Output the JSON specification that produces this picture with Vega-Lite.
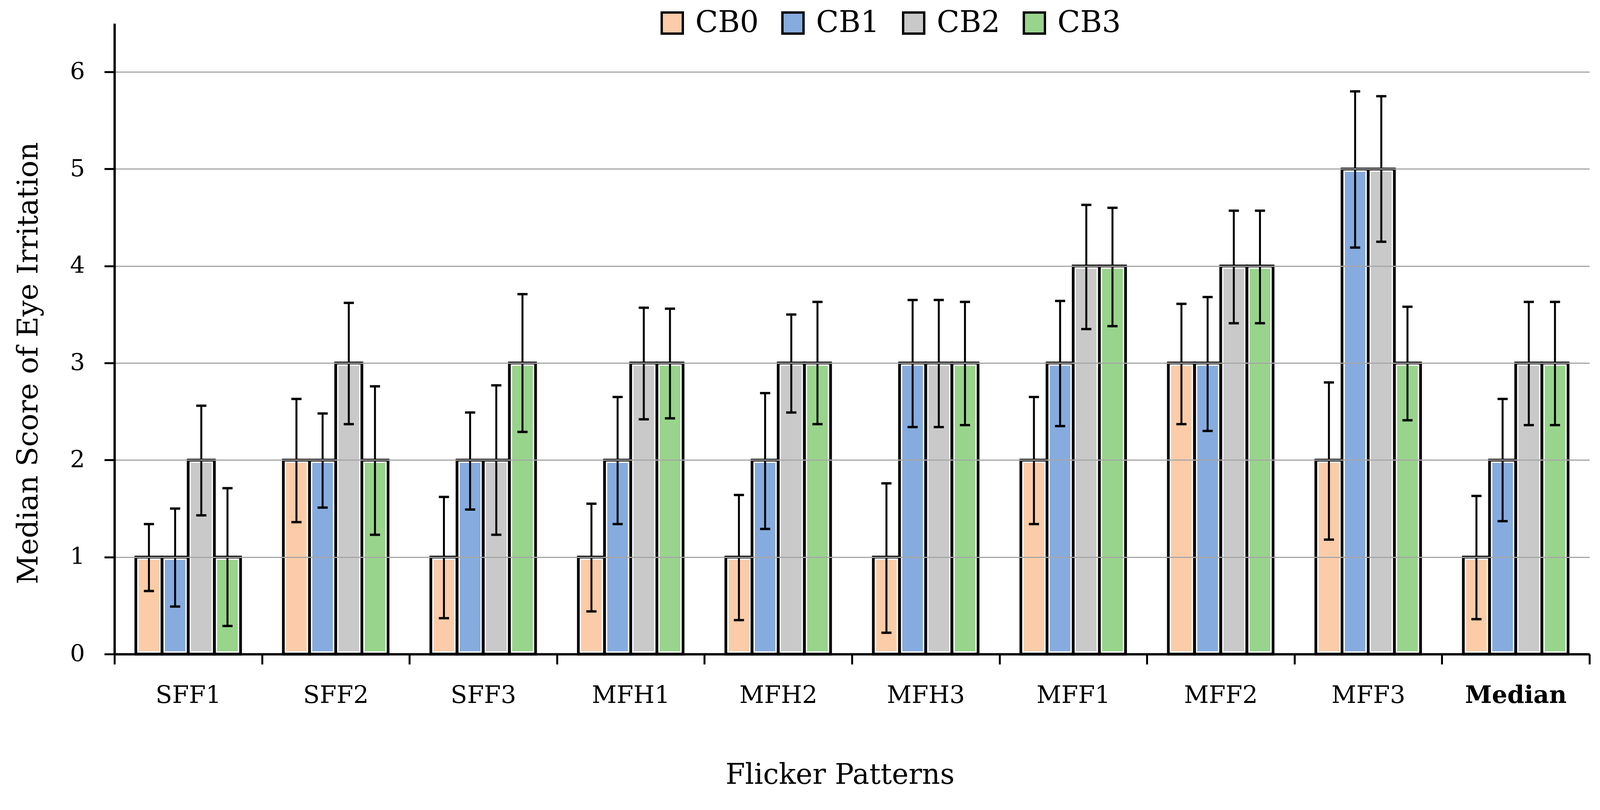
{
  "$schema": "https://vega.github.io/schema/vega-lite/v6.json",
  "autosize": {"type": "none"},
  "padding": {"left": 293, "top": 60, "right": 20, "bottom": 350},
  "width": 3776,
  "height": 1614,
  "background": "white",
  "config": {
    "font": "DejaVu Serif",
    "view": {"stroke": null},
    "axis": {"labelFont": "DejaVu Serif", "titleFont": "DejaVu Serif", "titleFontWeight": "normal", "labelColor": "black", "titleColor": "black", "labelLimit": 600},
    "legend": {"labelFont": "DejaVu Serif", "labelLimit": 600}
  },
  "data": {
    "values": [
      {"pattern": "SFF1", "cb": "CB0", "score": 1, "lo": 0.65, "hi": 1.34},
      {"pattern": "SFF1", "cb": "CB1", "score": 1, "lo": 0.49, "hi": 1.5},
      {"pattern": "SFF1", "cb": "CB2", "score": 2, "lo": 1.43, "hi": 2.56},
      {"pattern": "SFF1", "cb": "CB3", "score": 1, "lo": 0.29, "hi": 1.71},
      {"pattern": "SFF2", "cb": "CB0", "score": 2, "lo": 1.36, "hi": 2.63},
      {"pattern": "SFF2", "cb": "CB1", "score": 2, "lo": 1.51, "hi": 2.48},
      {"pattern": "SFF2", "cb": "CB2", "score": 3, "lo": 2.37, "hi": 3.62},
      {"pattern": "SFF2", "cb": "CB3", "score": 2, "lo": 1.23, "hi": 2.76},
      {"pattern": "SFF3", "cb": "CB0", "score": 1, "lo": 0.37, "hi": 1.62},
      {"pattern": "SFF3", "cb": "CB1", "score": 2, "lo": 1.49, "hi": 2.49},
      {"pattern": "SFF3", "cb": "CB2", "score": 2, "lo": 1.23, "hi": 2.77},
      {"pattern": "SFF3", "cb": "CB3", "score": 3, "lo": 2.29, "hi": 3.71},
      {"pattern": "MFH1", "cb": "CB0", "score": 1, "lo": 0.44, "hi": 1.55},
      {"pattern": "MFH1", "cb": "CB1", "score": 2, "lo": 1.34, "hi": 2.65},
      {"pattern": "MFH1", "cb": "CB2", "score": 3, "lo": 2.42, "hi": 3.57},
      {"pattern": "MFH1", "cb": "CB3", "score": 3, "lo": 2.43, "hi": 3.56},
      {"pattern": "MFH2", "cb": "CB0", "score": 1, "lo": 0.35, "hi": 1.64},
      {"pattern": "MFH2", "cb": "CB1", "score": 2, "lo": 1.29, "hi": 2.69},
      {"pattern": "MFH2", "cb": "CB2", "score": 3, "lo": 2.49, "hi": 3.5},
      {"pattern": "MFH2", "cb": "CB3", "score": 3, "lo": 2.37, "hi": 3.63},
      {"pattern": "MFH3", "cb": "CB0", "score": 1, "lo": 0.22, "hi": 1.76},
      {"pattern": "MFH3", "cb": "CB1", "score": 3, "lo": 2.34, "hi": 3.65},
      {"pattern": "MFH3", "cb": "CB2", "score": 3, "lo": 2.34, "hi": 3.65},
      {"pattern": "MFH3", "cb": "CB3", "score": 3, "lo": 2.36, "hi": 3.63},
      {"pattern": "MFF1", "cb": "CB0", "score": 2, "lo": 1.34, "hi": 2.65},
      {"pattern": "MFF1", "cb": "CB1", "score": 3, "lo": 2.35, "hi": 3.64},
      {"pattern": "MFF1", "cb": "CB2", "score": 4, "lo": 3.35, "hi": 4.63},
      {"pattern": "MFF1", "cb": "CB3", "score": 4, "lo": 3.38, "hi": 4.6},
      {"pattern": "MFF2", "cb": "CB0", "score": 3, "lo": 2.37, "hi": 3.61},
      {"pattern": "MFF2", "cb": "CB1", "score": 3, "lo": 2.3, "hi": 3.68},
      {"pattern": "MFF2", "cb": "CB2", "score": 4, "lo": 3.41, "hi": 4.57},
      {"pattern": "MFF2", "cb": "CB3", "score": 4, "lo": 3.41, "hi": 4.57},
      {"pattern": "MFF3", "cb": "CB0", "score": 2, "lo": 1.18, "hi": 2.8},
      {"pattern": "MFF3", "cb": "CB1", "score": 5, "lo": 4.19, "hi": 5.8},
      {"pattern": "MFF3", "cb": "CB2", "score": 5, "lo": 4.25, "hi": 5.75},
      {"pattern": "MFF3", "cb": "CB3", "score": 3, "lo": 2.41, "hi": 3.58},
      {"pattern": "Median", "cb": "CB0", "score": 1, "lo": 0.36, "hi": 1.63},
      {"pattern": "Median", "cb": "CB1", "score": 2, "lo": 1.37, "hi": 2.63},
      {"pattern": "Median", "cb": "CB2", "score": 3, "lo": 2.36, "hi": 3.63},
      {"pattern": "Median", "cb": "CB3", "score": 3, "lo": 2.36, "hi": 3.63}
    ]
  },
  "encoding": {
    "x": {
      "field": "pattern", "type": "nominal", "sort": null,
      "scale": {"paddingInner": 0, "paddingOuter": 0},
      "axis": {
        "title": "Flicker Patterns", "titleFontSize": 72,
        "titleX": 1857, "titleY": 309, "titleBaseline": "middle", "titleAlign": "center",
        "labelAngle": 0, "labelFontSize": 62, "labelPadding": 49,
        "labelFontWeight": {"condition": {"test": "datum.value === 'Median'", "value": "bold"}, "value": "normal"},
        "domainColor": "black", "domainWidth": 6,
        "tickColor": "black", "tickWidth": 5, "tickSize": 26, "tickBand": "extent",
        "zindex": 2
      }
    },
    "xOffset": {"field": "cb", "type": "nominal", "sort": null, "scale": {"paddingInner": 0, "paddingOuter": 0.817}}
  },
  "layer": [
    {
      "mark": {"type": "bar", "stroke": "white", "strokeWidth": 14},
      "encoding": {
        "y": {
          "field": "score", "type": "quantitative",
          "scale": {"domain": [0, 6.5], "nice": false},
          "axis": {
            "title": "Median Score of Eye Irritation", "titleFontSize": 73,
            "titleX": -220, "titleY": 869, "titleBaseline": "middle", "titleAlign": "center", "titleAngle": -90,
            "values": [0, 1, 2, 3, 4, 5, 6], "format": "d", "labelFontSize": 60, "labelPadding": 50,
            "grid": true, "gridColor": "#a6a6a6", "gridWidth": 3,
            "domainColor": "black", "domainWidth": 6,
            "tickColor": "black", "tickWidth": 5, "tickSize": 26,
            "zindex": 2
          }
        },
        "color": {
          "field": "cb", "type": "nominal",
          "scale": {"domain": ["CB0", "CB1", "CB2", "CB3"], "range": ["#fccca8", "#86acdf", "#c9c9c9", "#98d48b"]},
          "legend": {
            "orient": "none", "direction": "horizontal", "title": null,
            "legendX": 1390, "legendY": -39,
            "symbolType": "square", "symbolSize": 2916, "symbolStrokeColor": "black", "symbolStrokeWidth": 6,
            "symbolOpacity": 1,
            "labelFontSize": 76, "labelOffset": 21, "columnPadding": 48, "labelColor": "black", "labelLimit": 600
          }
        }
      }
    },
    {
      "mark": {"type": "bar", "fillOpacity": 0, "stroke": "black", "strokeWidth": 7},
      "encoding": {"y": {"field": "score", "type": "quantitative"}}
    },
    {
      "mark": {"type": "rule", "color": "black", "strokeWidth": 5},
      "encoding": {"y": {"field": "lo", "type": "quantitative"}, "y2": {"field": "hi"}}
    },
    {
      "mark": {"type": "tick", "color": "black", "size": 26, "thickness": 6, "opacity": 1},
      "encoding": {"y": {"field": "lo", "type": "quantitative"}}
    },
    {
      "mark": {"type": "tick", "color": "black", "size": 26, "thickness": 6, "opacity": 1},
      "encoding": {"y": {"field": "hi", "type": "quantitative"}}
    }
  ]
}
